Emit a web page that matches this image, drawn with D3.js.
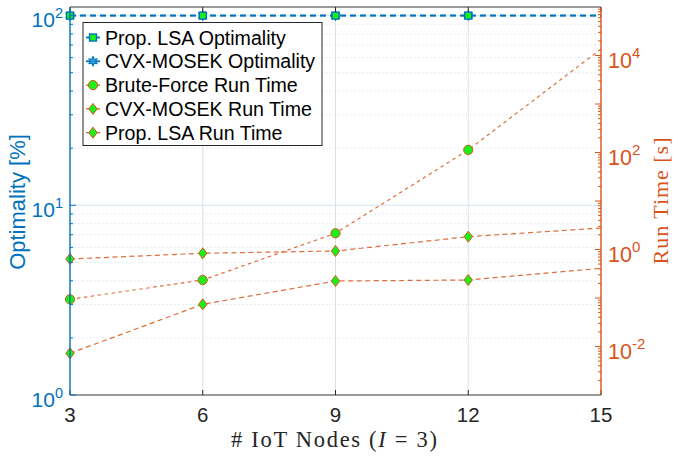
<!DOCTYPE html>
<html><head><meta charset="utf-8">
<script src="https://cdn.jsdelivr.net/npm/d3@7"></script>
<style>body{margin:0;background:#fff}svg{display:block}</style>
</head><body>
<svg id="c" width="673" height="458"></svg>
<script>
// ---- data ----
const nodes = [3, 6, 9, 12, 15];
const markerNodes = [3, 6, 9, 12];
const optLSA = [100, 100, 100, 100, 100];
const optCVX = [100, 100, 100, 100, 100];
const timeBF = [0.094, 0.235, 2.16, 113, 13600];
const timeCVX = [0.637, 0.836, 0.93, 1.84, 2.77];
const timeLSA = [0.00724, 0.0741, 0.224, 0.235, 0.409];
const xTicks = [3, 6, 9, 12, 15];
const leftTicks = [1, 10, 100];
const leftTickExp = ["0", "1", "2"];
const rightTicks = [1e-2, 1, 1e2, 1e4];
const rightTickExp = ["-2", "0", "2", "4"];
const legendLabels = ["Prop. LSA Optimality", "CVX-MOSEK Optimality", "Brute-Force Run Time", "CVX-MOSEK Run Time", "Prop. LSA Run Time"];

// ---- layout ----
const L = 70, R = 601, T = 7, B = 395;
const BLUE = "#0072BD", ORANGE = "#D95319", GREEN = "#19f019";
const svg = d3.select("#c");
const x = d3.scaleLinear().domain([3, 15]).range([L, R]);
const yL = d3.scaleLog().domain([1, 111]).range([B, T]);
const yR = d3.scaleLog().domain([1e-3, 1e5]).range([B, T]);

// grid
const g = svg.append("g");
xTicks.slice(1, -1).forEach(v => g.append("line").attr("x1", x(v)).attr("x2", x(v)).attr("y1", T).attr("y2", B).attr("stroke", "#dfdfdf").attr("stroke-width", 1));
const leftMinor = [];
[1, 10, 100].forEach(d => { for (let k = 2; k <= 9; k++) { const v = d * k; if (v < 111) leftMinor.push(v); } });
leftMinor.forEach(v => g.append("line").attr("x1", L).attr("x2", R).attr("y1", yL(v)).attr("y2", yL(v)).attr("stroke", "#d6e7f3").attr("stroke-width", 1).attr("stroke-dasharray", "1.5,2.5"));
leftTicks.forEach(v => g.append("line").attr("x1", L).attr("x2", R).attr("y1", yL(v)).attr("y2", yL(v)).attr("stroke", "#d6e7f3").attr("stroke-width", 1));

// lines
const lineL = d3.line().x((d, i) => x(nodes[i])).y(d => yL(d));
const lineR = d3.line().x((d, i) => x(nodes[i])).y(d => yR(d));
const plot = svg.append("g");
[[timeBF, "3.5,3.5"], [timeCVX, "5,3.5"], [timeLSA, "5,3.5"]].forEach(([s, da]) => plot.append("path").attr("d", lineR(s)).attr("fill", "none").attr("stroke", ORANGE).attr("stroke-opacity", 0.85).attr("stroke-width", 1.2).attr("stroke-dasharray", da));
plot.append("path").attr("d", lineL(optCVX)).attr("fill", "none").attr("stroke", BLUE).attr("stroke-opacity", 0.85).attr("stroke-width", 2).attr("stroke-dasharray", "6,4");
plot.append("path").attr("d", lineL(optLSA)).attr("fill", "none").attr("stroke", BLUE).attr("stroke-opacity", 0.85).attr("stroke-width", 1.8).attr("stroke-dasharray", "6,4");

// marker shapes
function square(sel, cx, cy) { sel.append("rect").attr("x", cx - 3.5).attr("y", cy - 3.5).attr("width", 7).attr("height", 7).attr("fill", GREEN).attr("stroke", BLUE).attr("stroke-width", 1.4); }
function hexagram(sel, cx, cy) {
  const pts = [];
  for (let i = 0; i < 12; i++) { const r = i % 2 ? 2.4 : 5; const a = Math.PI / 2 + i * Math.PI / 6; pts.push([cx + r * Math.cos(a), cy - r * Math.sin(a)]); }
  sel.append("polygon").attr("points", pts.map(p => p.join(",")).join(" ")).attr("fill", "#2a9ad0").attr("stroke", BLUE).attr("stroke-width", 1);
}
function circle(sel, cx, cy) { sel.append("circle").attr("cx", cx).attr("cy", cy).attr("r", 4.6).attr("fill", GREEN).attr("stroke", ORANGE).attr("stroke-width", 1); }
function diamond(sel, cx, cy) { sel.append("polygon").attr("points", [[cx, cy - 5.5], [cx + 4.2, cy], [cx, cy + 5.5], [cx - 4.2, cy]].map(p => p.join(",")).join(" ")).attr("fill", GREEN).attr("stroke", ORANGE).attr("stroke-width", 1); }

markerNodes.forEach((n, i) => {
  circle(plot, x(n), yR(timeBF[i]));
  diamond(plot, x(n), yR(timeCVX[i]));
  diamond(plot, x(n), yR(timeLSA[i]));
});
markerNodes.forEach((n, i) => { hexagram(plot, x(n), yL(optCVX[i])); });
markerNodes.forEach((n, i) => { square(plot, x(n), yL(optLSA[i])); });

// axes box
const ax = svg.append("g");
ax.append("line").attr("x1", L).attr("x2", R).attr("y1", T).attr("y2", T).attr("stroke", "#777").attr("stroke-width", 1.4);
ax.append("line").attr("x1", L).attr("x2", R).attr("y1", B).attr("y2", B).attr("stroke", "#444").attr("stroke-width", 1.2);
xTicks.forEach(v => {
  ax.append("line").attr("x1", x(v)).attr("x2", x(v)).attr("y1", B).attr("y2", B - 5).attr("stroke", "#262626");
  ax.append("line").attr("x1", x(v)).attr("x2", x(v)).attr("y1", T).attr("y2", T + 5).attr("stroke", "#262626");
  ax.append("text").attr("x", x(v)).attr("y", B + 27).attr("text-anchor", "middle").attr("font-family", "Liberation Sans, Arial, sans-serif").attr("font-size", 20.5).attr("fill", "#262626").text(v);
});
// left axis
ax.append("line").attr("x1", L).attr("x2", L).attr("y1", T).attr("y2", B).attr("stroke", BLUE).attr("stroke-width", 1.4);
leftMinor.forEach(v => ax.append("line").attr("x1", L).attr("x2", L + 3).attr("y1", yL(v)).attr("y2", yL(v)).attr("stroke", BLUE));
leftTicks.forEach((v, i) => {
  ax.append("line").attr("x1", L).attr("x2", L + 6).attr("y1", yL(v)).attr("y2", yL(v)).attr("stroke", BLUE);
  const t = ax.append("text").attr("x", L - 7).attr("y", yL(v) + 11.5).attr("text-anchor", "end").attr("font-family", "Liberation Sans, Arial, sans-serif").attr("font-size", 21).attr("fill", BLUE);
  t.append("tspan").text("10");
  t.append("tspan").attr("dy", -9).attr("font-size", 14.5).text(leftTickExp[i]);
});
// right axis
ax.append("line").attr("x1", R).attr("x2", R).attr("y1", T).attr("y2", B).attr("stroke", ORANGE).attr("stroke-width", 1.4);
for (let e = -3; e < 5; e++) {
  for (let k = 2; k <= 9; k++) { const v = k * Math.pow(10, e); ax.append("line").attr("x1", R).attr("x2", R - 3).attr("y1", yR(v)).attr("y2", yR(v)).attr("stroke", ORANGE); }
  if (e > -3) ax.append("line").attr("x1", R).attr("x2", R - 6).attr("y1", yR(Math.pow(10, e))).attr("y2", yR(Math.pow(10, e))).attr("stroke", ORANGE);
}
rightTicks.forEach((v, i) => {
  const t = ax.append("text").attr("x", R + 7).attr("y", yR(v) + 12).attr("font-family", "Liberation Sans, Arial, sans-serif").attr("font-size", 21.5).attr("fill", ORANGE);
  t.append("tspan").text("10");
  t.append("tspan").attr("dy", -9.5).attr("font-size", 15).text(rightTickExp[i]);
});

// axis titles
svg.append("text").attr("transform", "translate(25,202) rotate(-90)").attr("text-anchor", "middle").attr("font-family", "Liberation Sans, Arial, sans-serif").attr("font-size", 22).attr("fill", BLUE).text("Optimality [%]");
svg.append("text").attr("transform", "translate(668,201) rotate(-90)").attr("text-anchor", "middle").attr("font-family", "Liberation Serif, Times New Roman, serif").attr("font-size", 22).attr("fill", ORANGE).attr("textLength", 127).attr("lengthAdjust", "spacing").text("Run Time [s]");
const xl = svg.append("text").attr("x", 334).attr("y", 447).attr("text-anchor", "middle").attr("font-family", "Liberation Serif, Times New Roman, serif").attr("font-size", 22.5).attr("fill", "#262626").attr("textLength", 206).attr("lengthAdjust", "spacing");
xl.append("tspan").text("# IoT Nodes (");
xl.append("tspan").attr("font-style", "italic").text("I");
xl.append("tspan").text(" = 3)");

// legend
const lg = svg.append("g");
lg.append("rect").attr("x", 83).attr("y", 22.5).attr("width", 239).attr("height", 123).attr("fill", "#fff").attr("stroke", "#262626").attr("stroke-width", 1);
const markFns = [square, hexagram, circle, diamond, diamond];
const markCols = [BLUE, BLUE, ORANGE, ORANGE, ORANGE];
legendLabels.forEach((lab, i) => {
  const cy = 37.5 + i * 23.8;
  lg.append("line").attr("x1", 86).attr("x2", 100).attr("y1", cy).attr("y2", cy).attr("stroke", markCols[i]).attr("stroke-width", i < 2 ? 1.8 : 1.2);
  markFns[i](lg, 93, cy);
  lg.append("text").attr("x", 105).attr("y", cy + 7).attr("font-family", "Liberation Sans, Arial, sans-serif").attr("font-size", 19.6).attr("fill", "#000").text(lab);
});
</script>
</body></html>
